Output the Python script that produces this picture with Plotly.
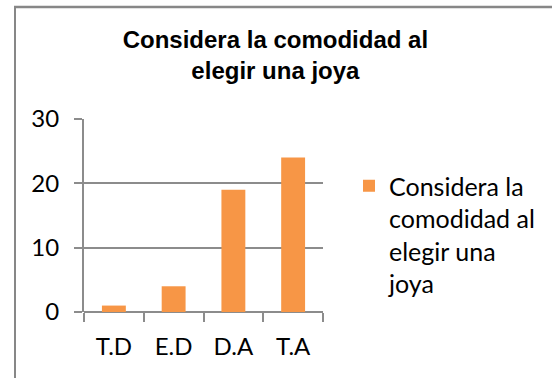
import plotly.graph_objects as go

# Survey responses: "Considera la comodidad al elegir una joya"
categories = ["T.D", "E.D", "D.A", "T.A"]
counts = [1, 4, 19, 24]
series_name = "Considera la<br>comodidad al<br>elegir una<br>joya"
chart_title = "Considera la comodidad al<br>elegir una joya"
y_ticks = [0, 10, 20, 30]

BAR_COLOR = "#F79646"
LINE_COLOR = "#8c8c8c"
FRAME_COLOR = "#878787"
BODY_FONT = "Lato, Carlito, Calibri, sans-serif"

W, H = 553, 378
L, R, T, B = 84, 230, 119, 66

fig = go.Figure(
    go.Bar(
        x=categories,
        y=counts,
        name=series_name,
        marker=dict(color=BAR_COLOR, line=dict(width=0)),
        showlegend=True,
    )
)

# outer chart frame: left and top edges
pw, ph = W - L - R, H - T - B
px_x = lambda p: (p - L) / pw
px_y = lambda p: (H - B - p) / ph
fig.add_shape(type="line", xref="paper", yref="paper",
              x0=px_x(15), x1=px_x(15), y0=px_y(H + 5), y1=px_y(7),
              line=dict(color=FRAME_COLOR, width=2))
fig.add_shape(type="line", xref="paper", yref="paper",
              x0=px_x(14), x1=px_x(W - 1), y0=px_y(7), y1=px_y(7),
              line=dict(color=FRAME_COLOR, width=2.5))

fig.update_layout(
    width=W, height=H,
    margin=dict(l=L, r=R, t=T, b=B, pad=0),
    paper_bgcolor="white", plot_bgcolor="white",
    bargap=0.6,
    title=dict(
        text=chart_title,
        font=dict(family="Arial, Liberation Sans, sans-serif", size=24, color="black", weight="bold"),
        x=0.498, xref="container", xanchor="center",
        y=0.873, yref="container", yanchor="top",
    ),
    legend=dict(
        x=px_x(349), y=px_y(163),
        xanchor="left", yanchor="top",
        valign="top",
        font=dict(family=BODY_FONT, size=25, color="black"),
        bgcolor="rgba(0,0,0,0)",
    ),
    xaxis=dict(
        tickson="boundaries",
        ticks="outside", ticklen=9, tickwidth=2, tickcolor=LINE_COLOR,
        showline=False, showgrid=False,
        tickfont=dict(family=BODY_FONT, size=24, color="black"),
        ticklabelstandoff=18,
    ),
    yaxis=dict(
        range=[0, 30], tickvals=y_ticks,
        ticks="outside", ticklen=8, tickwidth=2, tickcolor=LINE_COLOR,
        showgrid=True, gridcolor=LINE_COLOR, gridwidth=2,
        showline=True, linecolor=LINE_COLOR, linewidth=2,
        zeroline=True, zerolinecolor=LINE_COLOR, zerolinewidth=2,
        tickfont=dict(family=BODY_FONT, size=24, color="black"),
        ticklabelstandoff=10,
    ),
)

fig.write_html("out.html", config={"displayModeBar": False})
